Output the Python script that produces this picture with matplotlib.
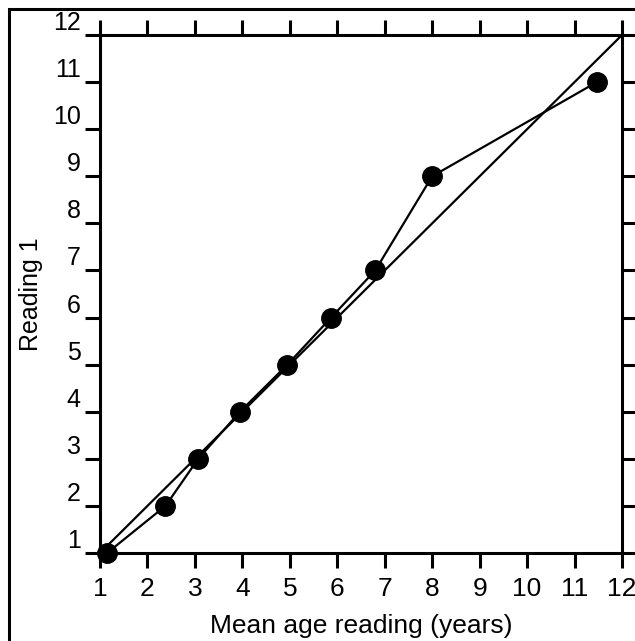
import matplotlib
matplotlib.use("Agg")
import matplotlib.pyplot as plt
from matplotlib.patches import Rectangle

# Mean age reading vs reading 1
mean_age = [1.15, 2.38, 3.07, 3.95, 4.95, 5.87, 6.8, 8.0, 11.47]
reading_1 = [1, 2, 3, 4, 5, 6, 7, 9, 11]
identity = [1, 12]
ticks = list(range(1, 13))

plt.rcParams['font.family'] = ['Liberation Sans', 'DejaVu Sans']

fig = plt.figure(figsize=(6.35, 6.41), dpi=100)
ax = fig.add_axes([100 / 635, 1 - 553 / 641, 522 / 635, 518 / 641])

# outer frame around the whole picture
fig.patches.append(Rectangle((9 / 635, -0.1), 1.1, 1 - 9 / 641 + 0.1,
                             transform=fig.transFigure, fill=False,
                             edgecolor="black", linewidth=2.2, clip_on=False))

ax.plot(identity, identity, color="black", linewidth=1.6)
ax.plot(mean_age, reading_1, color="black", linewidth=1.6,
        marker="o", markersize=14, clip_on=False)

ax.set_xlim(1, 12)
ax.set_ylim(1, 12)
ax.set_xticks(ticks)
ax.set_yticks(ticks)
ax.tick_params(direction="out", length=11, width=2.2, top=True, right=True)
ax.tick_params(axis="x", labelsize=19, pad=6)
ax.tick_params(axis="y", labelsize=18, pad=3)
for lab in ax.get_yticklabels():
    lab.set_verticalalignment("bottom")
for s in ax.spines.values():
    s.set_linewidth(2.2)

ax.set_xlabel("Mean age reading (years)", fontsize=19, labelpad=10)
ax.set_ylabel("Reading 1", fontsize=18, labelpad=7)

fig.savefig("out.png", dpi=100)
